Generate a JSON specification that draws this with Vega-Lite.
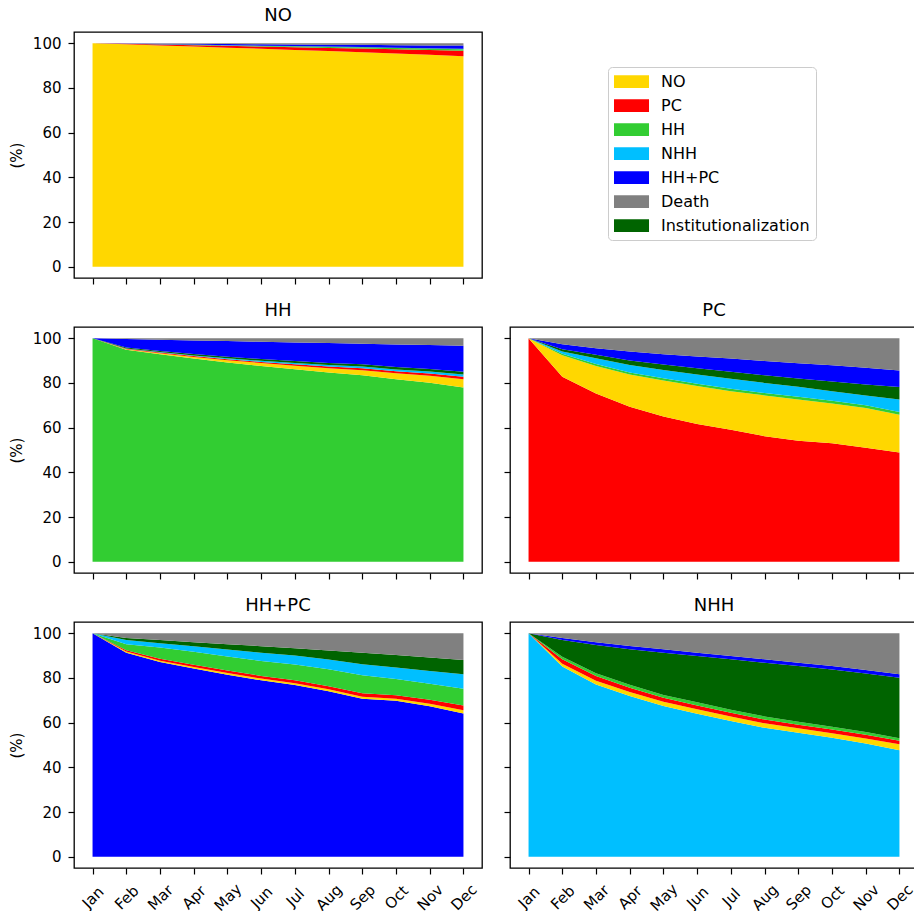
{
  "$schema": "https://vega.github.io/schema/vega-lite/v6.json",
  "padding": {"left": 8, "top": 6, "right": -3, "bottom": 5},
  "background": "white",
  "datasets": {
    "flows": [
      {"panel":"NO","state":"NO","month":"Jan","pct":100},{"panel":"NO","state":"NO","month":"Feb","pct":99.5},{"panel":"NO","state":"NO","month":"Mar","pct":99.0},{"panel":"NO","state":"NO","month":"Apr","pct":98.5},{"panel":"NO","state":"NO","month":"May","pct":98.0},{"panel":"NO","state":"NO","month":"Jun","pct":97.5},{"panel":"NO","state":"NO","month":"Jul","pct":97.0},{"panel":"NO","state":"NO","month":"Aug","pct":96.5},{"panel":"NO","state":"NO","month":"Sep","pct":96.0},{"panel":"NO","state":"NO","month":"Oct","pct":95.4},{"panel":"NO","state":"NO","month":"Nov","pct":94.8},{"panel":"NO","state":"NO","month":"Dec","pct":94.2},
      {"panel":"NO","state":"PC","month":"Jan","pct":0},{"panel":"NO","state":"PC","month":"Feb","pct":0.2},{"panel":"NO","state":"PC","month":"Mar","pct":0.4},{"panel":"NO","state":"PC","month":"Apr","pct":0.6},{"panel":"NO","state":"PC","month":"May","pct":0.8},{"panel":"NO","state":"PC","month":"Jun","pct":1.0},{"panel":"NO","state":"PC","month":"Jul","pct":1.2},{"panel":"NO","state":"PC","month":"Aug","pct":1.4},{"panel":"NO","state":"PC","month":"Sep","pct":1.6},{"panel":"NO","state":"PC","month":"Oct","pct":1.9},{"panel":"NO","state":"PC","month":"Nov","pct":2.1},{"panel":"NO","state":"PC","month":"Dec","pct":2.4},
      {"panel":"NO","state":"HH","month":"Jan","pct":0},{"panel":"NO","state":"HH","month":"Feb","pct":0.1},{"panel":"NO","state":"HH","month":"Mar","pct":0.1},{"panel":"NO","state":"HH","month":"Apr","pct":0.2},{"panel":"NO","state":"HH","month":"May","pct":0.2},{"panel":"NO","state":"HH","month":"Jun","pct":0.3},{"panel":"NO","state":"HH","month":"Jul","pct":0.3},{"panel":"NO","state":"HH","month":"Aug","pct":0.4},{"panel":"NO","state":"HH","month":"Sep","pct":0.5},{"panel":"NO","state":"HH","month":"Oct","pct":0.5},{"panel":"NO","state":"HH","month":"Nov","pct":0.6},{"panel":"NO","state":"HH","month":"Dec","pct":0.7},
      {"panel":"NO","state":"NHH","month":"Jan","pct":0},{"panel":"NO","state":"NHH","month":"Feb","pct":0},{"panel":"NO","state":"NHH","month":"Mar","pct":0},{"panel":"NO","state":"NHH","month":"Apr","pct":0.05},{"panel":"NO","state":"NHH","month":"May","pct":0.05},{"panel":"NO","state":"NHH","month":"Jun","pct":0.05},{"panel":"NO","state":"NHH","month":"Jul","pct":0.1},{"panel":"NO","state":"NHH","month":"Aug","pct":0.1},{"panel":"NO","state":"NHH","month":"Sep","pct":0.1},{"panel":"NO","state":"NHH","month":"Oct","pct":0.1},{"panel":"NO","state":"NHH","month":"Nov","pct":0.1},{"panel":"NO","state":"NHH","month":"Dec","pct":0.1},
      {"panel":"NO","state":"Institutionalization","month":"Jan","pct":0},{"panel":"NO","state":"Institutionalization","month":"Feb","pct":0},{"panel":"NO","state":"Institutionalization","month":"Mar","pct":0},{"panel":"NO","state":"Institutionalization","month":"Apr","pct":0.05},{"panel":"NO","state":"Institutionalization","month":"May","pct":0.05},{"panel":"NO","state":"Institutionalization","month":"Jun","pct":0.05},{"panel":"NO","state":"Institutionalization","month":"Jul","pct":0.1},{"panel":"NO","state":"Institutionalization","month":"Aug","pct":0.1},{"panel":"NO","state":"Institutionalization","month":"Sep","pct":0.1},{"panel":"NO","state":"Institutionalization","month":"Oct","pct":0.1},{"panel":"NO","state":"Institutionalization","month":"Nov","pct":0.1},{"panel":"NO","state":"Institutionalization","month":"Dec","pct":0.1},
      {"panel":"NO","state":"HH+PC","month":"Jan","pct":0},{"panel":"NO","state":"HH+PC","month":"Feb","pct":0.1},{"panel":"NO","state":"HH+PC","month":"Mar","pct":0.3},{"panel":"NO","state":"HH+PC","month":"Apr","pct":0.4},{"panel":"NO","state":"HH+PC","month":"May","pct":0.5},{"panel":"NO","state":"HH+PC","month":"Jun","pct":0.6},{"panel":"NO","state":"HH+PC","month":"Jul","pct":0.7},{"panel":"NO","state":"HH+PC","month":"Aug","pct":0.8},{"panel":"NO","state":"HH+PC","month":"Sep","pct":1.0},{"panel":"NO","state":"HH+PC","month":"Oct","pct":1.1},{"panel":"NO","state":"HH+PC","month":"Nov","pct":1.3},{"panel":"NO","state":"HH+PC","month":"Dec","pct":1.5},
      {"panel":"NO","state":"Death","month":"Jan","pct":0},{"panel":"NO","state":"Death","month":"Feb","pct":0.1},{"panel":"NO","state":"Death","month":"Mar","pct":0.2},{"panel":"NO","state":"Death","month":"Apr","pct":0.2},{"panel":"NO","state":"Death","month":"May","pct":0.4},{"panel":"NO","state":"Death","month":"Jun","pct":0.5},{"panel":"NO","state":"Death","month":"Jul","pct":0.6},{"panel":"NO","state":"Death","month":"Aug","pct":0.7},{"panel":"NO","state":"Death","month":"Sep","pct":0.7},{"panel":"NO","state":"Death","month":"Oct","pct":0.9},{"panel":"NO","state":"Death","month":"Nov","pct":1.0},{"panel":"NO","state":"Death","month":"Dec","pct":1.0},

      {"panel":"HH","state":"HH","month":"Jan","pct":100},{"panel":"HH","state":"HH","month":"Feb","pct":94.8},{"panel":"HH","state":"HH","month":"Mar","pct":92.8},{"panel":"HH","state":"HH","month":"Apr","pct":90.9},{"panel":"HH","state":"HH","month":"May","pct":89.1},{"panel":"HH","state":"HH","month":"Jun","pct":87.6},{"panel":"HH","state":"HH","month":"Jul","pct":86.1},{"panel":"HH","state":"HH","month":"Aug","pct":84.6},{"panel":"HH","state":"HH","month":"Sep","pct":83.4},{"panel":"HH","state":"HH","month":"Oct","pct":81.6},{"panel":"HH","state":"HH","month":"Nov","pct":80.1},{"panel":"HH","state":"HH","month":"Dec","pct":77.9},
      {"panel":"HH","state":"NO","month":"Jan","pct":0},{"panel":"HH","state":"NO","month":"Feb","pct":0.3},{"panel":"HH","state":"NO","month":"Mar","pct":0.5},{"panel":"HH","state":"NO","month":"Apr","pct":0.7},{"panel":"HH","state":"NO","month":"May","pct":1.0},{"panel":"HH","state":"NO","month":"Jun","pct":1.3},{"panel":"HH","state":"NO","month":"Jul","pct":1.6},{"panel":"HH","state":"NO","month":"Aug","pct":2.0},{"panel":"HH","state":"NO","month":"Sep","pct":2.3},{"panel":"HH","state":"NO","month":"Oct","pct":2.7},{"panel":"HH","state":"NO","month":"Nov","pct":3.1},{"panel":"HH","state":"NO","month":"Dec","pct":3.7},
      {"panel":"HH","state":"PC","month":"Jan","pct":0},{"panel":"HH","state":"PC","month":"Feb","pct":0.2},{"panel":"HH","state":"PC","month":"Mar","pct":0.3},{"panel":"HH","state":"PC","month":"Apr","pct":0.4},{"panel":"HH","state":"PC","month":"May","pct":0.5},{"panel":"HH","state":"PC","month":"Jun","pct":0.5},{"panel":"HH","state":"PC","month":"Jul","pct":0.6},{"panel":"HH","state":"PC","month":"Aug","pct":0.7},{"panel":"HH","state":"PC","month":"Sep","pct":0.8},{"panel":"HH","state":"PC","month":"Oct","pct":0.9},{"panel":"HH","state":"PC","month":"Nov","pct":1.0},{"panel":"HH","state":"PC","month":"Dec","pct":1.2},
      {"panel":"HH","state":"NHH","month":"Jan","pct":0},{"panel":"HH","state":"NHH","month":"Feb","pct":0.1},{"panel":"HH","state":"NHH","month":"Mar","pct":0.2},{"panel":"HH","state":"NHH","month":"Apr","pct":0.3},{"panel":"HH","state":"NHH","month":"May","pct":0.4},{"panel":"HH","state":"NHH","month":"Jun","pct":0.5},{"panel":"HH","state":"NHH","month":"Jul","pct":0.6},{"panel":"HH","state":"NHH","month":"Aug","pct":0.7},{"panel":"HH","state":"NHH","month":"Sep","pct":0.8},{"panel":"HH","state":"NHH","month":"Oct","pct":0.8},{"panel":"HH","state":"NHH","month":"Nov","pct":0.9},{"panel":"HH","state":"NHH","month":"Dec","pct":1.0},
      {"panel":"HH","state":"Institutionalization","month":"Jan","pct":0},{"panel":"HH","state":"Institutionalization","month":"Feb","pct":0.4},{"panel":"HH","state":"Institutionalization","month":"Mar","pct":0.5},{"panel":"HH","state":"Institutionalization","month":"Apr","pct":0.6},{"panel":"HH","state":"Institutionalization","month":"May","pct":0.7},{"panel":"HH","state":"Institutionalization","month":"Jun","pct":0.8},{"panel":"HH","state":"Institutionalization","month":"Jul","pct":0.9},{"panel":"HH","state":"Institutionalization","month":"Aug","pct":0.9},{"panel":"HH","state":"Institutionalization","month":"Sep","pct":1.0},{"panel":"HH","state":"Institutionalization","month":"Oct","pct":1.1},{"panel":"HH","state":"Institutionalization","month":"Nov","pct":1.1},{"panel":"HH","state":"Institutionalization","month":"Dec","pct":1.2},
      {"panel":"HH","state":"HH+PC","month":"Jan","pct":0},{"panel":"HH","state":"HH+PC","month":"Feb","pct":3.8},{"panel":"HH","state":"HH+PC","month":"Mar","pct":5.0},{"panel":"HH","state":"HH+PC","month":"Apr","pct":6.1},{"panel":"HH","state":"HH+PC","month":"May","pct":7.0},{"panel":"HH","state":"HH+PC","month":"Jun","pct":7.7},{"panel":"HH","state":"HH+PC","month":"Jul","pct":8.3},{"panel":"HH","state":"HH+PC","month":"Aug","pct":8.9},{"panel":"HH","state":"HH+PC","month":"Sep","pct":9.2},{"panel":"HH","state":"HH+PC","month":"Oct","pct":10.1},{"panel":"HH","state":"HH+PC","month":"Nov","pct":10.7},{"panel":"HH","state":"HH+PC","month":"Dec","pct":11.6},
      {"panel":"HH","state":"Death","month":"Jan","pct":0},{"panel":"HH","state":"Death","month":"Feb","pct":0.4},{"panel":"HH","state":"Death","month":"Mar","pct":0.7},{"panel":"HH","state":"Death","month":"Apr","pct":1.0},{"panel":"HH","state":"Death","month":"May","pct":1.3},{"panel":"HH","state":"Death","month":"Jun","pct":1.6},{"panel":"HH","state":"Death","month":"Jul","pct":1.9},{"panel":"HH","state":"Death","month":"Aug","pct":2.2},{"panel":"HH","state":"Death","month":"Sep","pct":2.5},{"panel":"HH","state":"Death","month":"Oct","pct":2.8},{"panel":"HH","state":"Death","month":"Nov","pct":3.1},{"panel":"HH","state":"Death","month":"Dec","pct":3.4},

      {"panel":"PC","state":"PC","month":"Jan","pct":100},{"panel":"PC","state":"PC","month":"Feb","pct":82.8},{"panel":"PC","state":"PC","month":"Mar","pct":75.3},{"panel":"PC","state":"PC","month":"Apr","pct":69.3},{"panel":"PC","state":"PC","month":"May","pct":65.0},{"panel":"PC","state":"PC","month":"Jun","pct":61.6},{"panel":"PC","state":"PC","month":"Jul","pct":59.0},{"panel":"PC","state":"PC","month":"Aug","pct":56.2},{"panel":"PC","state":"PC","month":"Sep","pct":54.1},{"panel":"PC","state":"PC","month":"Oct","pct":53.0},{"panel":"PC","state":"PC","month":"Nov","pct":51.0},{"panel":"PC","state":"PC","month":"Dec","pct":48.9},
      {"panel":"PC","state":"NO","month":"Jan","pct":0},{"panel":"PC","state":"NO","month":"Feb","pct":9.6},{"panel":"PC","state":"NO","month":"Mar","pct":12.3},{"panel":"PC","state":"NO","month":"Apr","pct":14.5},{"panel":"PC","state":"NO","month":"May","pct":16.1},{"panel":"PC","state":"NO","month":"Jun","pct":17.0},{"panel":"PC","state":"NO","month":"Jul","pct":17.3},{"panel":"PC","state":"NO","month":"Aug","pct":18.2},{"panel":"PC","state":"NO","month":"Sep","pct":18.5},{"panel":"PC","state":"NO","month":"Oct","pct":17.8},{"panel":"PC","state":"NO","month":"Nov","pct":17.8},{"panel":"PC","state":"NO","month":"Dec","pct":16.9},
      {"panel":"PC","state":"HH","month":"Jan","pct":0},{"panel":"PC","state":"HH","month":"Feb","pct":0.6},{"panel":"PC","state":"HH","month":"Mar","pct":0.8},{"panel":"PC","state":"HH","month":"Apr","pct":0.9},{"panel":"PC","state":"HH","month":"May","pct":1.0},{"panel":"PC","state":"HH","month":"Jun","pct":1.0},{"panel":"PC","state":"HH","month":"Jul","pct":1.1},{"panel":"PC","state":"HH","month":"Aug","pct":1.1},{"panel":"PC","state":"HH","month":"Sep","pct":1.2},{"panel":"PC","state":"HH","month":"Oct","pct":1.2},{"panel":"PC","state":"HH","month":"Nov","pct":1.2},{"panel":"PC","state":"HH","month":"Dec","pct":1.2},
      {"panel":"PC","state":"NHH","month":"Jan","pct":0},{"panel":"PC","state":"NHH","month":"Feb","pct":1.0},{"panel":"PC","state":"NHH","month":"Mar","pct":2.6},{"panel":"PC","state":"NHH","month":"Apr","pct":3.3},{"panel":"PC","state":"NHH","month":"May","pct":3.7},{"panel":"PC","state":"NHH","month":"Jun","pct":4.2},{"panel":"PC","state":"NHH","month":"Jul","pct":4.5},{"panel":"PC","state":"NHH","month":"Aug","pct":4.5},{"panel":"PC","state":"NHH","month":"Sep","pct":4.5},{"panel":"PC","state":"NHH","month":"Oct","pct":4.3},{"panel":"PC","state":"NHH","month":"Nov","pct":4.4},{"panel":"PC","state":"NHH","month":"Dec","pct":5.6},
      {"panel":"PC","state":"Institutionalization","month":"Jan","pct":0},{"panel":"PC","state":"Institutionalization","month":"Feb","pct":1.0},{"panel":"PC","state":"Institutionalization","month":"Mar","pct":1.6},{"panel":"PC","state":"Institutionalization","month":"Apr","pct":2.0},{"panel":"PC","state":"Institutionalization","month":"May","pct":2.4},{"panel":"PC","state":"Institutionalization","month":"Jun","pct":2.8},{"panel":"PC","state":"Institutionalization","month":"Jul","pct":3.1},{"panel":"PC","state":"Institutionalization","month":"Aug","pct":3.4},{"panel":"PC","state":"Institutionalization","month":"Sep","pct":3.7},{"panel":"PC","state":"Institutionalization","month":"Oct","pct":4.3},{"panel":"PC","state":"Institutionalization","month":"Nov","pct":4.9},{"panel":"PC","state":"Institutionalization","month":"Dec","pct":5.6},
      {"panel":"PC","state":"HH+PC","month":"Jan","pct":0},{"panel":"PC","state":"HH+PC","month":"Feb","pct":2.3},{"panel":"PC","state":"HH+PC","month":"Mar","pct":2.9},{"panel":"PC","state":"HH+PC","month":"Apr","pct":4.0},{"panel":"PC","state":"HH+PC","month":"May","pct":4.6},{"panel":"PC","state":"HH+PC","month":"Jun","pct":5.2},{"panel":"PC","state":"HH+PC","month":"Jul","pct":5.9},{"panel":"PC","state":"HH+PC","month":"Aug","pct":6.4},{"panel":"PC","state":"HH+PC","month":"Sep","pct":6.8},{"panel":"PC","state":"HH+PC","month":"Oct","pct":7.3},{"panel":"PC","state":"HH+PC","month":"Nov","pct":7.5},{"panel":"PC","state":"HH+PC","month":"Dec","pct":7.4},
      {"panel":"PC","state":"Death","month":"Jan","pct":0},{"panel":"PC","state":"Death","month":"Feb","pct":2.7},{"panel":"PC","state":"Death","month":"Mar","pct":4.5},{"panel":"PC","state":"Death","month":"Apr","pct":6.0},{"panel":"PC","state":"Death","month":"May","pct":7.2},{"panel":"PC","state":"Death","month":"Jun","pct":8.2},{"panel":"PC","state":"Death","month":"Jul","pct":9.1},{"panel":"PC","state":"Death","month":"Aug","pct":10.2},{"panel":"PC","state":"Death","month":"Sep","pct":11.2},{"panel":"PC","state":"Death","month":"Oct","pct":12.1},{"panel":"PC","state":"Death","month":"Nov","pct":13.2},{"panel":"PC","state":"Death","month":"Dec","pct":14.4},

      {"panel":"HH+PC","state":"HH+PC","month":"Jan","pct":100},{"panel":"HH+PC","state":"HH+PC","month":"Feb","pct":91.3},{"panel":"HH+PC","state":"HH+PC","month":"Mar","pct":87.1},{"panel":"HH+PC","state":"HH+PC","month":"Apr","pct":84.2},{"panel":"HH+PC","state":"HH+PC","month":"May","pct":81.4},{"panel":"HH+PC","state":"HH+PC","month":"Jun","pct":78.9},{"panel":"HH+PC","state":"HH+PC","month":"Jul","pct":76.8},{"panel":"HH+PC","state":"HH+PC","month":"Aug","pct":74.0},{"panel":"HH+PC","state":"HH+PC","month":"Sep","pct":70.7},{"panel":"HH+PC","state":"HH+PC","month":"Oct","pct":69.8},{"panel":"HH+PC","state":"HH+PC","month":"Nov","pct":67.3},{"panel":"HH+PC","state":"HH+PC","month":"Dec","pct":64.1},
      {"panel":"HH+PC","state":"NO","month":"Jan","pct":0},{"panel":"HH+PC","state":"NO","month":"Feb","pct":0.5},{"panel":"HH+PC","state":"NO","month":"Mar","pct":0.6},{"panel":"HH+PC","state":"NO","month":"Apr","pct":0.7},{"panel":"HH+PC","state":"NO","month":"May","pct":0.8},{"panel":"HH+PC","state":"NO","month":"Jun","pct":0.8},{"panel":"HH+PC","state":"NO","month":"Jul","pct":0.8},{"panel":"HH+PC","state":"NO","month":"Aug","pct":0.9},{"panel":"HH+PC","state":"NO","month":"Sep","pct":0.9},{"panel":"HH+PC","state":"NO","month":"Oct","pct":0.9},{"panel":"HH+PC","state":"NO","month":"Nov","pct":1.1},{"panel":"HH+PC","state":"NO","month":"Dec","pct":1.4},
      {"panel":"HH+PC","state":"PC","month":"Jan","pct":0},{"panel":"HH+PC","state":"PC","month":"Feb","pct":0.6},{"panel":"HH+PC","state":"PC","month":"Mar","pct":0.9},{"panel":"HH+PC","state":"PC","month":"Apr","pct":1.0},{"panel":"HH+PC","state":"PC","month":"May","pct":1.1},{"panel":"HH+PC","state":"PC","month":"Jun","pct":1.2},{"panel":"HH+PC","state":"PC","month":"Jul","pct":1.3},{"panel":"HH+PC","state":"PC","month":"Aug","pct":1.4},{"panel":"HH+PC","state":"PC","month":"Sep","pct":1.5},{"panel":"HH+PC","state":"PC","month":"Oct","pct":1.6},{"panel":"HH+PC","state":"PC","month":"Nov","pct":1.8},{"panel":"HH+PC","state":"PC","month":"Dec","pct":2.2},
      {"panel":"HH+PC","state":"HH","month":"Jan","pct":0},{"panel":"HH+PC","state":"HH","month":"Feb","pct":2.7},{"panel":"HH+PC","state":"HH","month":"Mar","pct":5.0},{"panel":"HH+PC","state":"HH","month":"Apr","pct":5.8},{"panel":"HH+PC","state":"HH","month":"May","pct":6.3},{"panel":"HH+PC","state":"HH","month":"Jun","pct":6.7},{"panel":"HH+PC","state":"HH","month":"Jul","pct":7.1},{"panel":"HH+PC","state":"HH","month":"Aug","pct":7.6},{"panel":"HH+PC","state":"HH","month":"Sep","pct":8.1},{"panel":"HH+PC","state":"HH","month":"Oct","pct":7.2},{"panel":"HH+PC","state":"HH","month":"Nov","pct":7.2},{"panel":"HH+PC","state":"HH","month":"Dec","pct":7.5},
      {"panel":"HH+PC","state":"NHH","month":"Jan","pct":0},{"panel":"HH+PC","state":"NHH","month":"Feb","pct":1.8},{"panel":"HH+PC","state":"NHH","month":"Mar","pct":1.9},{"panel":"HH+PC","state":"NHH","month":"Apr","pct":2.5},{"panel":"HH+PC","state":"NHH","month":"May","pct":3.1},{"panel":"HH+PC","state":"NHH","month":"Jun","pct":3.7},{"panel":"HH+PC","state":"NHH","month":"Jul","pct":4.0},{"panel":"HH+PC","state":"NHH","month":"Aug","pct":4.3},{"panel":"HH+PC","state":"NHH","month":"Sep","pct":4.9},{"panel":"HH+PC","state":"NHH","month":"Oct","pct":5.1},{"panel":"HH+PC","state":"NHH","month":"Nov","pct":5.7},{"panel":"HH+PC","state":"NHH","month":"Dec","pct":6.4},
      {"panel":"HH+PC","state":"Institutionalization","month":"Jan","pct":0},{"panel":"HH+PC","state":"Institutionalization","month":"Feb","pct":0.9},{"panel":"HH+PC","state":"Institutionalization","month":"Mar","pct":1.4},{"panel":"HH+PC","state":"Institutionalization","month":"Apr","pct":1.8},{"panel":"HH+PC","state":"Institutionalization","month":"May","pct":2.4},{"panel":"HH+PC","state":"Institutionalization","month":"Jun","pct":2.9},{"panel":"HH+PC","state":"Institutionalization","month":"Jul","pct":3.3},{"panel":"HH+PC","state":"Institutionalization","month":"Aug","pct":4.1},{"panel":"HH+PC","state":"Institutionalization","month":"Sep","pct":5.2},{"panel":"HH+PC","state":"Institutionalization","month":"Oct","pct":5.6},{"panel":"HH+PC","state":"Institutionalization","month":"Nov","pct":6.0},{"panel":"HH+PC","state":"Institutionalization","month":"Dec","pct":6.4},
      {"panel":"HH+PC","state":"Death","month":"Jan","pct":0},{"panel":"HH+PC","state":"Death","month":"Feb","pct":2.2},{"panel":"HH+PC","state":"Death","month":"Mar","pct":3.1},{"panel":"HH+PC","state":"Death","month":"Apr","pct":4.0},{"panel":"HH+PC","state":"Death","month":"May","pct":4.9},{"panel":"HH+PC","state":"Death","month":"Jun","pct":5.8},{"panel":"HH+PC","state":"Death","month":"Jul","pct":6.7},{"panel":"HH+PC","state":"Death","month":"Aug","pct":7.7},{"panel":"HH+PC","state":"Death","month":"Sep","pct":8.7},{"panel":"HH+PC","state":"Death","month":"Oct","pct":9.8},{"panel":"HH+PC","state":"Death","month":"Nov","pct":10.9},{"panel":"HH+PC","state":"Death","month":"Dec","pct":12.0},

      {"panel":"NHH","state":"NHH","month":"Jan","pct":100},{"panel":"NHH","state":"NHH","month":"Feb","pct":85.1},{"panel":"NHH","state":"NHH","month":"Mar","pct":77.1},{"panel":"NHH","state":"NHH","month":"Apr","pct":71.9},{"panel":"NHH","state":"NHH","month":"May","pct":67.4},{"panel":"NHH","state":"NHH","month":"Jun","pct":64.0},{"panel":"NHH","state":"NHH","month":"Jul","pct":60.7},{"panel":"NHH","state":"NHH","month":"Aug","pct":57.7},{"panel":"NHH","state":"NHH","month":"Sep","pct":55.5},{"panel":"NHH","state":"NHH","month":"Oct","pct":53.2},{"panel":"NHH","state":"NHH","month":"Nov","pct":50.7},{"panel":"NHH","state":"NHH","month":"Dec","pct":47.7},
      {"panel":"NHH","state":"NO","month":"Jan","pct":0},{"panel":"NHH","state":"NO","month":"Feb","pct":1.2},{"panel":"NHH","state":"NO","month":"Mar","pct":1.6},{"panel":"NHH","state":"NO","month":"Apr","pct":1.8},{"panel":"NHH","state":"NO","month":"May","pct":1.9},{"panel":"NHH","state":"NO","month":"Jun","pct":2.0},{"panel":"NHH","state":"NO","month":"Jul","pct":2.0},{"panel":"NHH","state":"NO","month":"Aug","pct":2.0},{"panel":"NHH","state":"NO","month":"Sep","pct":2.0},{"panel":"NHH","state":"NO","month":"Oct","pct":2.1},{"panel":"NHH","state":"NO","month":"Nov","pct":2.2},{"panel":"NHH","state":"NO","month":"Dec","pct":2.6},
      {"panel":"NHH","state":"PC","month":"Jan","pct":0},{"panel":"NHH","state":"PC","month":"Feb","pct":2.0},{"panel":"NHH","state":"PC","month":"Mar","pct":2.1},{"panel":"NHH","state":"PC","month":"Apr","pct":1.9},{"panel":"NHH","state":"PC","month":"May","pct":1.8},{"panel":"NHH","state":"PC","month":"Jun","pct":1.7},{"panel":"NHH","state":"PC","month":"Jul","pct":1.7},{"panel":"NHH","state":"PC","month":"Aug","pct":1.7},{"panel":"NHH","state":"PC","month":"Sep","pct":1.6},{"panel":"NHH","state":"PC","month":"Oct","pct":1.6},{"panel":"NHH","state":"PC","month":"Nov","pct":1.7},{"panel":"NHH","state":"PC","month":"Dec","pct":1.6},
      {"panel":"NHH","state":"HH","month":"Jan","pct":0},{"panel":"NHH","state":"HH","month":"Feb","pct":1.2},{"panel":"NHH","state":"HH","month":"Mar","pct":1.3},{"panel":"NHH","state":"HH","month":"Apr","pct":1.3},{"panel":"NHH","state":"HH","month":"May","pct":1.3},{"panel":"NHH","state":"HH","month":"Jun","pct":1.4},{"panel":"NHH","state":"HH","month":"Jul","pct":1.4},{"panel":"NHH","state":"HH","month":"Aug","pct":1.4},{"panel":"NHH","state":"HH","month":"Sep","pct":1.3},{"panel":"NHH","state":"HH","month":"Oct","pct":1.3},{"panel":"NHH","state":"HH","month":"Nov","pct":1.2},{"panel":"NHH","state":"HH","month":"Dec","pct":1.1},
      {"panel":"NHH","state":"Institutionalization","month":"Jan","pct":0},{"panel":"NHH","state":"Institutionalization","month":"Feb","pct":7.5},{"panel":"NHH","state":"Institutionalization","month":"Mar","pct":12.6},{"panel":"NHH","state":"Institutionalization","month":"Apr","pct":15.9},{"panel":"NHH","state":"Institutionalization","month":"May","pct":18.9},{"panel":"NHH","state":"Institutionalization","month":"Jun","pct":20.7},{"panel":"NHH","state":"Institutionalization","month":"Jul","pct":22.5},{"panel":"NHH","state":"Institutionalization","month":"Aug","pct":24.0},{"panel":"NHH","state":"Institutionalization","month":"Sep","pct":24.9},{"panel":"NHH","state":"Institutionalization","month":"Oct","pct":25.6},{"panel":"NHH","state":"Institutionalization","month":"Nov","pct":26.2},{"panel":"NHH","state":"Institutionalization","month":"Dec","pct":27.1},
      {"panel":"NHH","state":"HH+PC","month":"Jan","pct":0},{"panel":"NHH","state":"HH+PC","month":"Feb","pct":0.8},{"panel":"NHH","state":"HH+PC","month":"Mar","pct":1.2},{"panel":"NHH","state":"HH+PC","month":"Apr","pct":1.5},{"panel":"NHH","state":"HH+PC","month":"May","pct":1.5},{"panel":"NHH","state":"HH+PC","month":"Jun","pct":1.5},{"panel":"NHH","state":"HH+PC","month":"Jul","pct":1.5},{"panel":"NHH","state":"HH+PC","month":"Aug","pct":1.5},{"panel":"NHH","state":"HH+PC","month":"Sep","pct":1.5},{"panel":"NHH","state":"HH+PC","month":"Oct","pct":1.5},{"panel":"NHH","state":"HH+PC","month":"Nov","pct":1.5},{"panel":"NHH","state":"HH+PC","month":"Dec","pct":1.5},
      {"panel":"NHH","state":"Death","month":"Jan","pct":0},{"panel":"NHH","state":"Death","month":"Feb","pct":2.2},{"panel":"NHH","state":"Death","month":"Mar","pct":4.1},{"panel":"NHH","state":"Death","month":"Apr","pct":5.7},{"panel":"NHH","state":"Death","month":"May","pct":7.2},{"panel":"NHH","state":"Death","month":"Jun","pct":8.7},{"panel":"NHH","state":"Death","month":"Jul","pct":10.2},{"panel":"NHH","state":"Death","month":"Aug","pct":11.7},{"panel":"NHH","state":"Death","month":"Sep","pct":13.2},{"panel":"NHH","state":"Death","month":"Oct","pct":14.7},{"panel":"NHH","state":"Death","month":"Nov","pct":16.5},{"panel":"NHH","state":"Death","month":"Dec","pct":18.4}
    ]
  },
  "data": {"name": "flows"},
  "vconcat": [
    {
      "hconcat": [
        {
          "title": "NO",
          "width": 408, "height": 246,
          "transform": [
            {"filter": "datum.panel === 'NO'"},
            {"calculate": "datum.state === datum.panel ? 0 : indexof(['NO','PC','HH','NHH','Institutionalization','HH+PC','Death'], datum.state) + 1", "as": "ord"}
          ],
          "mark": {"type": "area", "interpolate": "linear"},
          "encoding": {
            "x": {"field": "month", "type": "ordinal", "sort": ["Jan","Feb","Mar","Apr","May","Jun","Jul","Aug","Sep","Oct","Nov","Dec"], "scale": {"type": "point", "padding": 0.55}, "axis": {"labels": false, "title": null}},
            "y": {"field": "pct", "type": "quantitative", "stack": "zero", "scale": {"domain": [-5, 105], "nice": false, "zero": false}, "axis": {"values": [0,20,40,60,80,100], "title": "(%)", "titlePadding": 8, "labelPadding": 7}},
            "color": {"field": "state", "type": "nominal", "title": null, "scale": {"domain": ["NO","PC","HH","NHH","HH+PC","Death","Institutionalization"], "range": ["#FFD700","#FF0000","#32CD32","#00BFFF","#0000FF","#808080","#006400"]}},
            "order": {"field": "ord", "type": "quantitative"}
          }
        }
      ]
    },
    {
      "hconcat": [
        {
          "title": "HH",
          "width": 408, "height": 246,
          "transform": [
            {"filter": "datum.panel === 'HH'"},
            {"calculate": "datum.state === datum.panel ? 0 : indexof(['NO','PC','HH','NHH','Institutionalization','HH+PC','Death'], datum.state) + 1", "as": "ord"}
          ],
          "mark": {"type": "area", "interpolate": "linear"},
          "encoding": {
            "x": {"field": "month", "type": "ordinal", "sort": ["Jan","Feb","Mar","Apr","May","Jun","Jul","Aug","Sep","Oct","Nov","Dec"], "scale": {"type": "point", "padding": 0.55}, "axis": {"labels": false, "title": null}},
            "y": {"field": "pct", "type": "quantitative", "stack": "zero", "scale": {"domain": [-5, 105], "nice": false, "zero": false}, "axis": {"values": [0,20,40,60,80,100], "title": "(%)", "titlePadding": 8, "labelPadding": 7}},
            "color": {"field": "state", "type": "nominal", "title": null, "scale": {"domain": ["NO","PC","HH","NHH","HH+PC","Death","Institutionalization"], "range": ["#FFD700","#FF0000","#32CD32","#00BFFF","#0000FF","#808080","#006400"]}},
            "order": {"field": "ord", "type": "quantitative"}
          }
        },
        {
          "title": "PC",
          "width": 408, "height": 246,
          "transform": [
            {"filter": "datum.panel === 'PC'"},
            {"calculate": "datum.state === datum.panel ? 0 : indexof(['NO','PC','HH','NHH','Institutionalization','HH+PC','Death'], datum.state) + 1", "as": "ord"}
          ],
          "mark": {"type": "area", "interpolate": "linear"},
          "encoding": {
            "x": {"field": "month", "type": "ordinal", "sort": ["Jan","Feb","Mar","Apr","May","Jun","Jul","Aug","Sep","Oct","Nov","Dec"], "scale": {"type": "point", "padding": 0.55}, "axis": {"labels": false, "title": null}},
            "y": {"field": "pct", "type": "quantitative", "stack": "zero", "scale": {"domain": [-5, 105], "nice": false, "zero": false}, "axis": {"values": [0,20,40,60,80,100], "labels": false, "title": null}},
            "color": {"field": "state", "type": "nominal", "title": null, "scale": {"domain": ["NO","PC","HH","NHH","HH+PC","Death","Institutionalization"], "range": ["#FFD700","#FF0000","#32CD32","#00BFFF","#0000FF","#808080","#006400"]}},
            "order": {"field": "ord", "type": "quantitative"}
          }
        }
      ],
      "spacing": 19
    },
    {
      "hconcat": [
        {
          "title": "HH+PC",
          "width": 408, "height": 246,
          "transform": [
            {"filter": "datum.panel === 'HH+PC'"},
            {"calculate": "datum.state === datum.panel ? 0 : indexof(['NO','PC','HH','NHH','Institutionalization','HH+PC','Death'], datum.state) + 1", "as": "ord"}
          ],
          "mark": {"type": "area", "interpolate": "linear"},
          "encoding": {
            "x": {"field": "month", "type": "ordinal", "sort": ["Jan","Feb","Mar","Apr","May","Jun","Jul","Aug","Sep","Oct","Nov","Dec"], "scale": {"type": "point", "padding": 0.55}, "axis": {"title": null, "labelAngle": -45, "labelAlign": "center", "labelBaseline": "middle", "labelPadding": 23}},
            "y": {"field": "pct", "type": "quantitative", "stack": "zero", "scale": {"domain": [-5, 105], "nice": false, "zero": false}, "axis": {"values": [0,20,40,60,80,100], "title": "(%)", "titlePadding": 8, "labelPadding": 7}},
            "color": {"field": "state", "type": "nominal", "title": null, "scale": {"domain": ["NO","PC","HH","NHH","HH+PC","Death","Institutionalization"], "range": ["#FFD700","#FF0000","#32CD32","#00BFFF","#0000FF","#808080","#006400"]}},
            "order": {"field": "ord", "type": "quantitative"}
          }
        },
        {
          "title": "NHH",
          "width": 408, "height": 246,
          "transform": [
            {"filter": "datum.panel === 'NHH'"},
            {"calculate": "datum.state === datum.panel ? 0 : indexof(['NO','PC','HH','NHH','Institutionalization','HH+PC','Death'], datum.state) + 1", "as": "ord"}
          ],
          "mark": {"type": "area", "interpolate": "linear"},
          "encoding": {
            "x": {"field": "month", "type": "ordinal", "sort": ["Jan","Feb","Mar","Apr","May","Jun","Jul","Aug","Sep","Oct","Nov","Dec"], "scale": {"type": "point", "padding": 0.55}, "axis": {"title": null, "labelAngle": -45, "labelAlign": "center", "labelBaseline": "middle", "labelPadding": 23}},
            "y": {"field": "pct", "type": "quantitative", "stack": "zero", "scale": {"domain": [-5, 105], "nice": false, "zero": false}, "axis": {"values": [0,20,40,60,80,100], "labels": false, "title": null}},
            "color": {"field": "state", "type": "nominal", "title": null, "scale": {"domain": ["NO","PC","HH","NHH","HH+PC","Death","Institutionalization"], "range": ["#FFD700","#FF0000","#32CD32","#00BFFF","#0000FF","#808080","#006400"]}},
            "order": {"field": "ord", "type": "quantitative"}
          }
        }
      ],
      "spacing": 19
    }
  ],
  "spacing": 15,
  "config": {
    "font": "DejaVu Sans",
    "view": {"stroke": "#000000", "strokeWidth": 1.3},
    "title": {"font": "DejaVu Sans", "fontSize": 18, "fontWeight": "normal", "color": "#000000", "offset": 7, "anchor": "middle"},
    "axis": {"domain": false, "grid": false, "tickColor": "#000000", "tickWidth": 1.2, "tickSize": 6, "labelFont": "DejaVu Sans", "labelFontSize": 15, "labelColor": "#000000", "titleFont": "DejaVu Sans", "titleFontSize": 15, "titleFontWeight": "normal", "titleColor": "#000000"},
    "legend": {"orient": "none", "legendX": 534, "legendY": 35, "strokeColor": "#cccccc", "strokeWidth": 1, "cornerRadius": 4, "fillColor": "#ffffff", "padding": 6, "labelFont": "DejaVu Sans", "labelFontSize": 16, "labelColor": "#000000", "symbolType": "M-1,-0.75H3.12V0.75H-1Z", "symbolSize": 289, "symbolStrokeWidth": 0, "symbolOpacity": 1, "rowPadding": 7, "labelOffset": 30, "labelLimit": 300}
  }
}
